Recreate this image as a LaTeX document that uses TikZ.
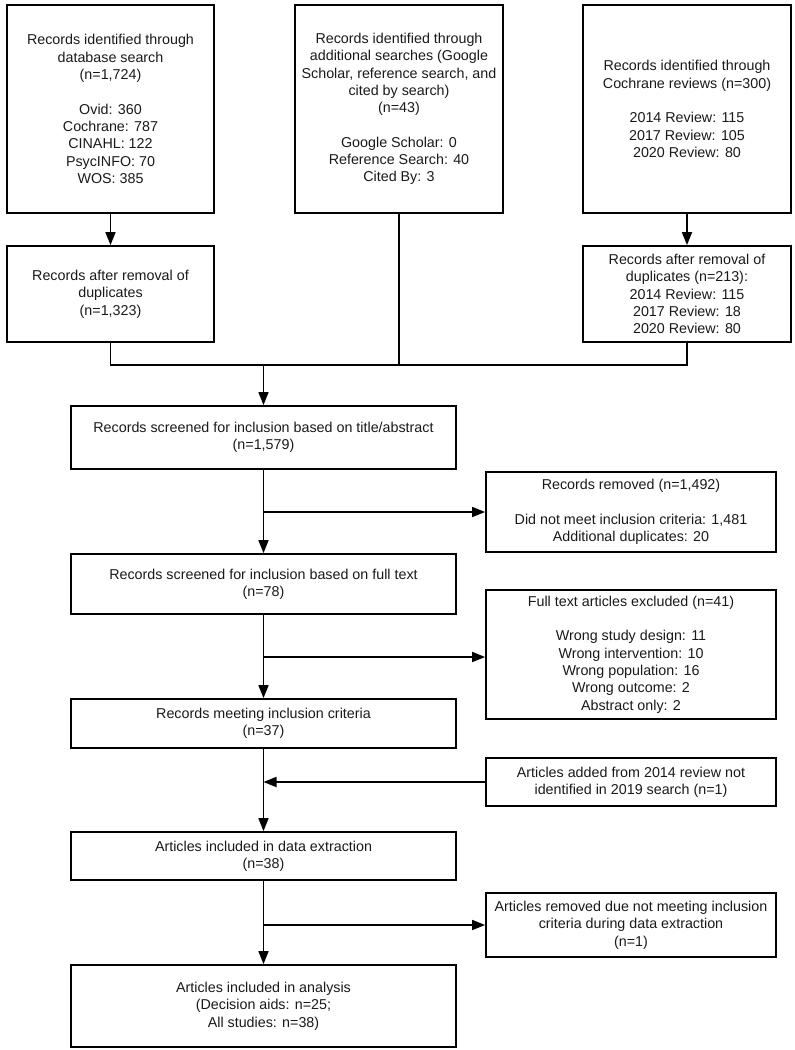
\documentclass[tikz,border=0pt]{standalone}
\usepackage{fontspec}
\setmainfont{Liberation Sans}
\usetikzlibrary{arrows.meta}
\tikzset{
  box/.style={draw=black, line width=1.8pt, inner sep=0pt, align=center,
    font=\fontsize{14.3}{17.3}\selectfont, text=black!90},
  conn/.style={line width=1.7pt, draw=black},
  arr/.style={conn, -{Triangle[length=13pt,width=10pt]}}
}
\begin{document}
\begin{tikzpicture}[x=1pt,y=-1pt]
\useasboundingbox (0,0) rectangle (795,1050);
% top row
\node[box, minimum width=207pt, minimum height=208pt] (A) at (110.5,109)
  {Records identified through\\database search\\(n=1,724)\\[17.3pt]Ovid: 360\\Cochrane: 787\\CINAHL: 122\\PsycINFO: 70\\WOS: 385};
\node[box, minimum width=208pt, minimum height=208pt] (B) at (399,109)
  {Records identified through\\additional searches (Google\\Scholar, reference search, and\\cited by search)\\(n=43)\\[17.3pt]Google Scholar: 0\\Reference Search: 40\\Cited By: 3};
\node[box, minimum width=208pt, minimum height=208pt] (C) at (687,109)
  {Records identified through\\Cochrane reviews (n=300)\\[17.3pt]2014 Review: 115\\2017 Review: 105\\2020 Review: 80};
% second row
\node[box, minimum width=207pt, minimum height=96pt] (D) at (110.5,294)
  {Records after removal of\\duplicates\\(n=1,323)};
\node[box, minimum width=208pt, minimum height=96pt] (E) at (687,294)
  {Records after removal of\\duplicates (n=213):\\2014 Review: 115\\2017 Review: 18\\2020 Review: 80};
% main column
\node[box, minimum width=385pt, minimum height=63pt] (F) at (263.5,437.5)
  {Records screened for inclusion based on title/abstract\\(n=1,579)};
\node[box, minimum width=385pt, minimum height=60pt] (H) at (263.5,584)
  {Records screened for inclusion based on full text\\(n=78)};
\node[box, minimum width=385pt, minimum height=49pt] (J) at (263.5,723.5)
  {Records meeting inclusion criteria\\(n=37)};
\node[box, minimum width=385pt, minimum height=48pt] (L) at (263.5,856)
  {Articles included in data extraction\\(n=38)};
\node[box, minimum width=385pt, minimum height=82pt] (N) at (263.5,1006)
  {Articles included in analysis\\(Decision aids: n=25;\\All studies: n=38)};
% right column
\node[box, minimum width=290pt, minimum height=80pt] (G) at (631,512)
  {Records removed (n=1,492)\\[17.3pt]Did not meet inclusion criteria: 1,481\\Additional duplicates: 20};
\node[box, minimum width=290pt, minimum height=129pt] (I) at (631,654.5)
  {Full text articles excluded (n=41)\\[17.3pt]Wrong study design: 11\\Wrong intervention: 10\\Wrong population: 16\\Wrong outcome: 2\\Abstract only: 2};
\node[box, minimum width=290pt, minimum height=48pt] (K) at (631,782)
  {Articles added from 2014 review not\\identified in 2019 search (n=1)};
\node[box, minimum width=290pt, minimum height=64pt] (M) at (631,925)
  {Articles removed due not meeting inclusion\\criteria during data extraction\\(n=1)};
% connectors
\coordinate (m) at (263.5,365);
\coordinate (b2) at (263.5,657);
\draw[arr] (A) -- (D);
\draw[arr] (C) -- (E);
\draw[conn] (D.south) -- (D.south |- m) -- (E.south |- m) -- (E.south);
\draw[conn] (B.south) -- (B.south |- m);
\draw[arr] (m) -- (F.north);
\draw[arr] (F.south) -- (H.north);
\draw[arr] (F.south |- G.west) -- (G.west);
\draw[arr] (H.south) -- (J.north);
\draw[arr] (b2) -- (I.west |- b2);
\draw[arr] (J.south) -- (L.north);
\draw[arr] (K.west) -- (J.south |- K.west);
\draw[arr] (L.south) -- (N.north);
\draw[arr] (L.south |- M.west) -- (M.west);
\end{tikzpicture}
\end{document}
